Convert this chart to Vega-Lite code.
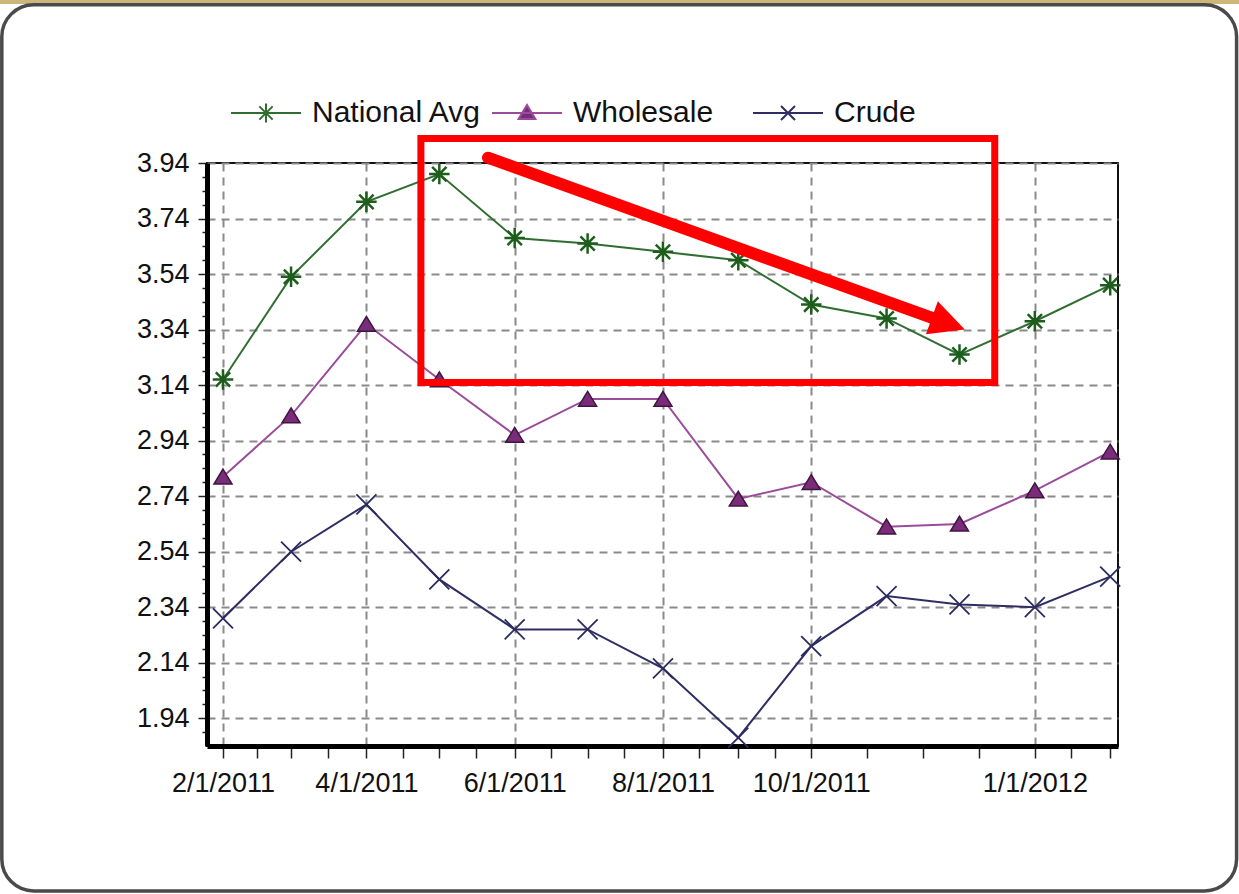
{
  "$schema": "https://vega.github.io/schema/vega-lite/v6.json",
  "width": 911,
  "height": 583,
  "autosize": {"type": "none"},
  "padding": {"left": 207, "top": 163, "right": 121, "bottom": 148},
  "background": "#ffffff",
  "config": {
    "font": "Liberation Sans",
    "view": {"stroke": "#111111", "strokeWidth": 2},
    "legend": {
      "orient": "none",
      "legendX": 23,
      "legendY": -86,
      "direction": "horizontal",
      "symbolSize": 4900,
      "symbolStrokeWidth": 2,
      "labelFontSize": 30,
      "labelFont": "Liberation Sans",
      "labelColor": "#111111",
      "labelOffset": 10,
      "labelLimit": 400,
      "columnPadding": 6,
      "gridAlign": "all"
    }
  },
  "datasets": {
    "prices": [
      {"date": "2011-02-01", "series": "National Avg", "value": 3.16},
      {"date": "2011-03-01", "series": "National Avg", "value": 3.53},
      {"date": "2011-04-01", "series": "National Avg", "value": 3.80},
      {"date": "2011-05-01", "series": "National Avg", "value": 3.90},
      {"date": "2011-06-01", "series": "National Avg", "value": 3.67},
      {"date": "2011-07-01", "series": "National Avg", "value": 3.65},
      {"date": "2011-08-01", "series": "National Avg", "value": 3.62},
      {"date": "2011-09-01", "series": "National Avg", "value": 3.59},
      {"date": "2011-10-01", "series": "National Avg", "value": 3.43},
      {"date": "2011-11-01", "series": "National Avg", "value": 3.38},
      {"date": "2011-12-01", "series": "National Avg", "value": 3.25},
      {"date": "2012-01-01", "series": "National Avg", "value": 3.37},
      {"date": "2012-02-01", "series": "National Avg", "value": 3.50},
      {"date": "2011-02-01", "series": "Wholesale", "value": 2.81},
      {"date": "2011-03-01", "series": "Wholesale", "value": 3.03},
      {"date": "2011-04-01", "series": "Wholesale", "value": 3.36},
      {"date": "2011-05-01", "series": "Wholesale", "value": 3.16},
      {"date": "2011-06-01", "series": "Wholesale", "value": 2.96},
      {"date": "2011-07-01", "series": "Wholesale", "value": 3.09},
      {"date": "2011-08-01", "series": "Wholesale", "value": 3.09},
      {"date": "2011-09-01", "series": "Wholesale", "value": 2.73},
      {"date": "2011-10-01", "series": "Wholesale", "value": 2.79},
      {"date": "2011-11-01", "series": "Wholesale", "value": 2.63},
      {"date": "2011-12-01", "series": "Wholesale", "value": 2.64},
      {"date": "2012-01-01", "series": "Wholesale", "value": 2.76},
      {"date": "2012-02-01", "series": "Wholesale", "value": 2.90},
      {"date": "2011-02-01", "series": "Crude", "value": 2.30},
      {"date": "2011-03-01", "series": "Crude", "value": 2.54},
      {"date": "2011-04-01", "series": "Crude", "value": 2.71},
      {"date": "2011-05-01", "series": "Crude", "value": 2.44},
      {"date": "2011-06-01", "series": "Crude", "value": 2.26},
      {"date": "2011-07-01", "series": "Crude", "value": 2.26},
      {"date": "2011-08-01", "series": "Crude", "value": 2.12},
      {"date": "2011-09-01", "series": "Crude", "value": 1.87},
      {"date": "2011-10-01", "series": "Crude", "value": 2.20},
      {"date": "2011-11-01", "series": "Crude", "value": 2.38},
      {"date": "2011-12-01", "series": "Crude", "value": 2.35},
      {"date": "2012-01-01", "series": "Crude", "value": 2.34},
      {"date": "2012-02-01", "series": "Crude", "value": 2.45}
    ],
    "band": [{"date": "2010-09-01", "date2": "2012-06-01", "value": 4.513, "value2": 4.7}],
    "frame": [{"date": "2010-11-02", "date2": "2012-03-24", "value": 4.51, "value2": 1.318}],
    "box": [{"date": "2011-04-23T10:00:00Z", "date2": "2011-12-15T12:00:00Z", "value": 4.028, "value2": 3.149}],
    "shaft": [{"date": "2011-05-21T00:00:00Z", "date2": "2011-11-22T22:00:00Z", "value": 3.959, "value2": 3.372}],
    "head": [{"date": "2011-11-26T10:00:00Z", "value": 3.3615}]
  },
  "encoding": {
    "x": {
      "field": "date",
      "type": "temporal",
      "scale": {
        "type": "utc",
        "nice": false,
        "domain": [
          {"year": 2011, "month": 1, "date": 25, "hours": 10, "utc": true},
          {"year": 2012, "month": 2, "date": 4, "hours": 5, "utc": true}
        ]
      },
      "axis": {
        "title": null,
        "format": "%-m/%-d/%Y",
        "values": [
          {"year": 2011, "month": 2, "date": 1, "utc": true},
          {"year": 2011, "month": 2, "date": 15, "utc": true},
          {"year": 2011, "month": 3, "date": 1, "utc": true},
          {"year": 2011, "month": 3, "date": 16, "utc": true},
          {"year": 2011, "month": 4, "date": 1, "utc": true},
          {"year": 2011, "month": 4, "date": 16, "utc": true},
          {"year": 2011, "month": 5, "date": 1, "utc": true},
          {"year": 2011, "month": 5, "date": 16, "utc": true},
          {"year": 2011, "month": 6, "date": 1, "utc": true},
          {"year": 2011, "month": 6, "date": 16, "utc": true},
          {"year": 2011, "month": 7, "date": 1, "utc": true},
          {"year": 2011, "month": 7, "date": 16, "utc": true},
          {"year": 2011, "month": 8, "date": 1, "utc": true},
          {"year": 2011, "month": 8, "date": 16, "utc": true},
          {"year": 2011, "month": 9, "date": 1, "utc": true},
          {"year": 2011, "month": 9, "date": 16, "utc": true},
          {"year": 2011, "month": 10, "date": 1, "utc": true},
          {"year": 2011, "month": 10, "date": 24, "utc": true},
          {"year": 2011, "month": 11, "date": 16, "utc": true},
          {"year": 2011, "month": 12, "date": 9, "utc": true},
          {"year": 2012, "month": 1, "date": 1, "utc": true},
          {"year": 2012, "month": 1, "date": 16, "utc": true},
          {"year": 2012, "month": 2, "date": 1, "utc": true}
        ],
        "labelExpr": "(utcdate(datum.value) === 1 && (utcmonth(datum.value) === 0 || (utcmonth(datum.value) % 2 === 1 && utcyear(datum.value) === 2011))) ? datum.label : ''",
        "labelFontSize": 27,
        "labelColor": "#111111",
        "labelPadding": 12,
        "labelOverlap": false,
        "labelFlush": false,
        "labelBound": false,
        "tickSize": 12,
        "tickColor": "#222222",
        "tickWidth": 1.5,
        "grid": true,
        "gridOpacity": {
          "condition": {"test": "utcdate(datum.value) === 1 && (utcmonth(datum.value) === 0 || (utcmonth(datum.value) % 2 === 1 && utcyear(datum.value) === 2011))", "value": 1},
          "value": 0
        },
        "gridDash": [8, 6],
        "gridColor": "#8a8a8a",
        "gridWidth": 2,
        "domainColor": "#000000",
        "domainWidth": 5
      }
    },
    "y": {
      "field": "value",
      "type": "quantitative",
      "scale": {"domain": [1.84, 3.94], "nice": false, "zero": false},
      "axis": {
        "title": null,
        "format": ".2f",
        "values": [1.89, 1.94, 1.99, 2.04, 2.09, 2.14, 2.19, 2.24, 2.29, 2.34, 2.39, 2.44, 2.49, 2.54, 2.59, 2.64, 2.69, 2.74, 2.79, 2.84, 2.89, 2.94, 2.99, 3.04, 3.09, 3.14, 3.19, 3.24, 3.29, 3.34, 3.39, 3.44, 3.49, 3.54, 3.59, 3.64, 3.69, 3.74, 3.79, 3.84, 3.89, 3.94],
        "labelExpr": "abs((datum.value - 1.94) / 0.2 - round((datum.value - 1.94) / 0.2)) < 0.01 ? datum.label : ''",
        "labelFontSize": 27,
        "labelColor": "#111111",
        "labelPadding": 9,
        "labelOverlap": false,
        "labelFlush": false,
        "labelBound": false,
        "tickSize": {
          "condition": {"test": "abs((datum.value - 1.94) / 0.2 - round((datum.value - 1.94) / 0.2)) < 0.01", "value": 9},
          "value": 5
        },
        "tickColor": "#222222",
        "tickWidth": 1.5,
        "grid": true,
        "gridOpacity": {
          "condition": {"test": "abs((datum.value - 1.94) / 0.2 - round((datum.value - 1.94) / 0.2)) < 0.01", "value": 1},
          "value": 0
        },
        "gridDash": [8, 6],
        "gridColor": "#8a8a8a",
        "gridWidth": 2,
        "domainColor": "#000000",
        "domainWidth": 5
      }
    }
  },
  "layer": [
    {
      "data": {"name": "band"},
      "mark": {"type": "rect", "fill": "#cdb67a"},
      "encoding": {"x2": {"field": "date2"}, "y2": {"field": "value2"}}
    },
    {
      "data": {"name": "frame"},
      "mark": {"type": "rect", "fillOpacity": 0, "stroke": "#4a4a4a", "strokeWidth": 3.5, "cornerRadius": 32},
      "encoding": {"x2": {"field": "date2"}, "y2": {"field": "value2"}}
    },
    {
      "data": {"name": "prices"},
      "mark": {"type": "line", "strokeWidth": 2},
      "encoding": {
        "color": {
          "field": "series",
          "type": "nominal",
          "scale": {"domain": ["National Avg", "Wholesale", "Crude"], "range": ["#2f6e30", "#9a4c9a", "#2e2e62"]},
          "legend": {
            "title": null,
            "encode": {
              "symbols": {
                "update": {
                  "shape": {"signal": "datum.value === 'National Avg' ? 'M-1,0L1,0M-0.27,0L0.27,0M0,-0.27L0,0.27M-0.19,-0.19L0.19,0.19M-0.19,0.19L0.19,-0.19' : datum.value === 'Wholesale' ? 'M-1,0L1,0M0,-0.23L0.24,0.17L-0.24,0.17Z' : 'M-1,0L1,0M-0.2,-0.2L0.2,0.2M-0.2,0.2L0.2,-0.2'"},
                  "fill": {"signal": "datum.value === 'Wholesale' ? '#7a2c7a' : 'transparent'"},
                  "strokeWidth": {"value": 2},
                  "opacity": {"value": 1}
                }
              }
            }
          }
        }
      }
    },
    {
      "data": {"name": "prices"},
      "transform": [{"filter": "datum.series === 'National Avg'"}],
      "mark": {"type": "point", "shape": "M-1,0L1,0M0,-1L0,1M-0.7,-0.7L0.7,0.7M-0.7,0.7L0.7,-0.7", "filled": false, "stroke": "#1d5e1d", "strokeWidth": 2.5, "opacity": 1, "size": 420}
    },
    {
      "data": {"name": "prices"},
      "transform": [{"filter": "datum.series === 'Wholesale'"}],
      "mark": {"type": "point", "shape": "M0,-0.85L1,0.8L-1,0.8Z", "filled": true, "fill": "#7a2c7a", "stroke": "#3f163f", "strokeWidth": 1.5, "opacity": 1, "size": 324}
    },
    {
      "data": {"name": "prices"},
      "transform": [{"filter": "datum.series === 'Crude'"}],
      "mark": {"type": "point", "shape": "M-1,-1L1,1M-1,1L1,-1", "filled": false, "stroke": "#2b2b60", "strokeWidth": 1.8, "opacity": 1, "size": 400}
    },
    {
      "data": {"name": "box"},
      "mark": {"type": "rect", "fillOpacity": 0, "stroke": "#ff0000", "strokeWidth": 7},
      "encoding": {"x2": {"field": "date2"}, "y2": {"field": "value2"}}
    },
    {
      "data": {"name": "shaft"},
      "mark": {"type": "rule", "color": "#ff0000", "strokeWidth": 12, "strokeCap": "round"},
      "encoding": {"x2": {"field": "date2"}, "y2": {"field": "value2"}}
    },
    {
      "data": {"name": "head"},
      "mark": {"type": "point", "shape": "M1,0L-1,-1L-1,1Z", "filled": true, "color": "#ff0000", "opacity": 1, "size": 1225, "angle": 19.8}
    }
  ]
}
